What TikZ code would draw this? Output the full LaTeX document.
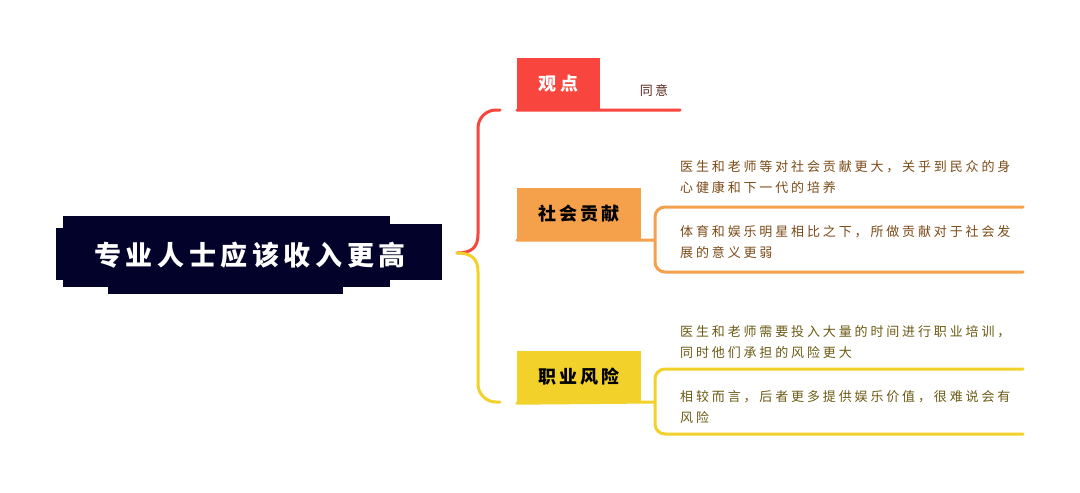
\documentclass[tikz,border=0pt]{standalone}
\usepackage{fontspec}
\newfontfamily\cjk{Noto Sans CJK SC}
\newfontfamily\cjkwide[LetterSpace=18]{Noto Sans CJK SC}
\newfontfamily\leaffont[LetterSpace=22]{Noto Sans CJK SC}
\newfontfamily\titlefont[LetterSpace=17]{Noto Sans CJK SC}
\definecolor{rootnavy}{HTML}{03022A}
\definecolor{viewred}{HTML}{F8453D}
\definecolor{socialorange}{HTML}{F5A04B}
\definecolor{riskyellow}{HTML}{F2D12A}
\definecolor{leafbrown}{HTML}{7B4A17}
\definecolor{leafolive}{HTML}{6B5A14}
\definecolor{agreebrown}{HTML}{5C2B22}
\tikzset{
  branch/.style={rectangle, inner sep=0pt, minimum height=52pt,
    font=\cjkwide\bfseries\fontsize{18}{20}\selectfont},
  leaf/.style={anchor=west, align=left, inner sep=0pt,
    font=\leaffont\fontsize{13}{21}\selectfont},
  link/.style={line width=3pt, line cap=round},
}
\begin{document}
\begin{tikzpicture}[x=1pt,y=-1pt]
\useasboundingbox[fill=white] (0,0) rectangle (1080,493);

\begin{scope}[fill=rootnavy]
  \fill (63,216) rectangle (390,287);
  \fill (56,228) rectangle (442,280);
  \fill (390,224) rectangle (442,280);
  \fill (108,280) rectangle (343,294);
\end{scope}
\node[text=white, font=\titlefont\bfseries\fontsize{27}{30}\selectfont] (root) at (250,255) {专业人士应该收入更高};

\coordinate (hub) at (457,253);
\coordinate (viewin) at (500,110);
\coordinate (viewend) at (680,110);
\coordinate (riskin) at (500,402);
\coordinate (socialfork) at (655,240);
\coordinate (riskfork) at (655,402);
\coordinate (social1end) at (1023,207);
\coordinate (social2end) at (1023,272);
\coordinate (risk1end) at (1023,369);
\coordinate (risk2end) at (1023,434);

\begin{scope}[every node/.style={branch}]
  \node[fill=viewred, text=white, minimum width=83pt] (view) at (558.5,84) {观点};
  \node[fill=socialorange, minimum width=124pt] (social) at (579,214) {社会贡献};
  \node[fill=riskyellow, minimum width=124pt] (risk) at (579,377) {职业风险};
\end{scope}

\draw[link, viewred] (hub) .. controls (472,253) and (478,247) .. (478,234) [rounded corners=18] |- (viewin);
\draw[link, riskyellow] (hub) .. controls (472,253) and (478,259) .. (478,272) [rounded corners=18] |- (riskin);

\draw[link, viewred] (view.south west) -- (viewend);
\draw[link, socialorange] (social.south west) -- (socialfork);
\draw[link, socialorange, rounded corners=10] (social1end) -| (socialfork) |- (social2end);
\draw[link, riskyellow] (risk.south west) -- (riskfork);
\draw[link, riskyellow, rounded corners=10] (risk1end) -| (riskfork) |- (risk2end);

\node[text=agreebrown, font=\cjkwide\fontsize{13}{15}\selectfont] (agree) at (654,91) {同意};

\begin{scope}[every node/.style={leaf}]
  \node[text=leafbrown] (social1) at (680,177.5) {医生和老师等对社会贡献更大，关乎到民众的身\\心健康和下一代的培养};
  \node[text=leafbrown] (social2) at (680,242.5) {体育和娱乐明星相比之下，所做贡献对于社会发\\展的意义更弱};
  \node[text=leafolive] (risk1) at (680,342) {医生和老师需要投入大量的时间进行职业培训，\\同时他们承担的风险更大};
  \node[text=leafolive] (risk2) at (680,407) {相较而言，后者更多提供娱乐价值，很难说会有\\风险};
\end{scope}
\end{tikzpicture}
\end{document}
